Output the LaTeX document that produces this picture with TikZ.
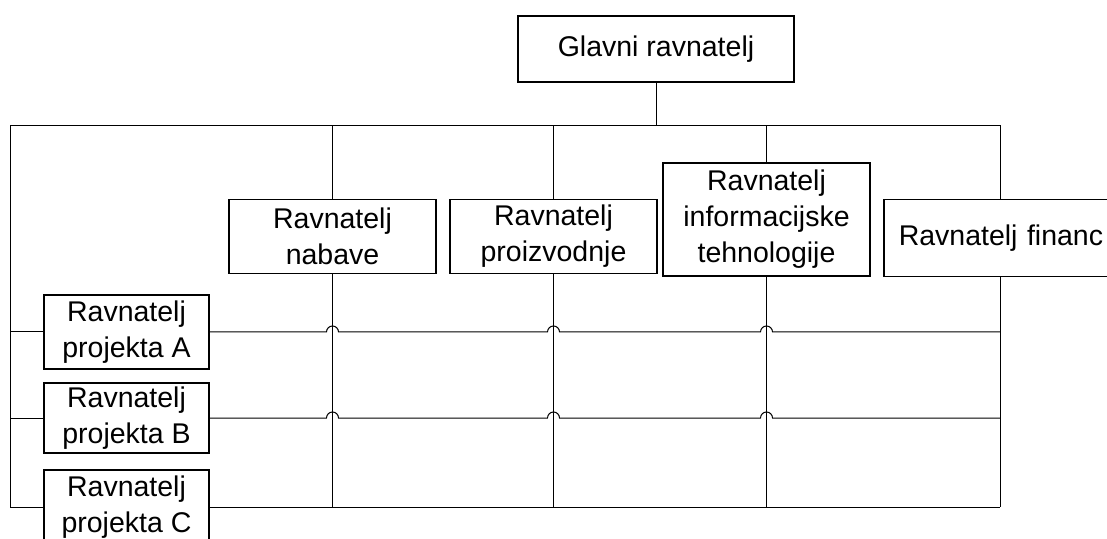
\documentclass[tikz,border=0pt]{standalone}
\usepackage{fontspec}
\setmainfont{Liberation Sans}
\usepackage{tikz}
\usetikzlibrary{positioning,calc}

\tikzset{
  box/.style={draw, line width=1.5pt, fill=white, align=center, inner ysep=3pt,
    font=\fontsize{28.5pt}{36pt}\selectfont},
  conn/.style={draw, line width=1pt}
}

\begin{document}
\begin{tikzpicture}[x=1pt, y=1pt]
  \useasboundingbox (0,0) rectangle (1107,538);
  \clip (0,0) rectangle (1107,538);

  % top director and department heads
  \node[box, minimum width=276, minimum height=66] (glavni) at (656, 489) {Glavni ravnatelj};
  \node[box, minimum width=207, minimum height=74] (nabava) at (332.5, 301.5) {Ravnatelj\\nabave};
  \node[box, minimum width=207, minimum height=74] (proizvodnja) at (553.5, 301.5) {Ravnatelj\\proizvodnje};
  \node[box, minimum width=207, minimum height=113] (it) at (766.5, 318.5) {Ravnatelj\\informacijske\\tehnologije};
  \node[box, minimum width=250, minimum height=77, anchor=north west, inner xsep=14pt,
    text width=220, align=left] (fin) at (883, 339) {Ravnatelj financ};

  % project heads
  \node[box, minimum width=165, minimum height=74] (pA) at (126.5, 206) {Ravnatelj\\projekta A};
  \node[box, minimum width=165, minimum height=70] (pB) at (126.5, 120) {Ravnatelj\\projekta B};
  \node[box, minimum width=165, minimum height=74] (pC) at (126.5, 31) {Ravnatelj\\projekta C};

  % bus lines
  \coordinate (busL) at (10, 412);
  \coordinate (busR) at (1000, 412);
  \draw[conn] (glavni.south) -- (glavni.south |- busL);
  \draw[conn] (busL |- pC) -- (busL) -- (busR) -- (busR |- fin.north);
  \draw[conn] (busR |- fin.south) -- (busR |- pC);

  \foreach \d in {nabava, proizvodnja, it} {
    \draw[conn] (\d.north |- busL) -- (\d.north);
    \draw[conn] (\d.south) -- (\d.south |- pC);
  }

  % project rows, jumping over the department lines
  \foreach \p in {pA, pB} {
    \draw[conn] (busL |- \p) -- (\p.west);
    \draw[conn] (\p.east) foreach \d in {nabava, proizvodnja, it} {
      -- ([xshift=-6pt]\d |- \p) arc (180:0:6pt)
    } -- (busR |- \p);
  }
  \draw[conn] (busL |- pC) -- (pC.west);
  \draw[conn] (pC.east) -- (busR |- pC);
\end{tikzpicture}
\end{document}
